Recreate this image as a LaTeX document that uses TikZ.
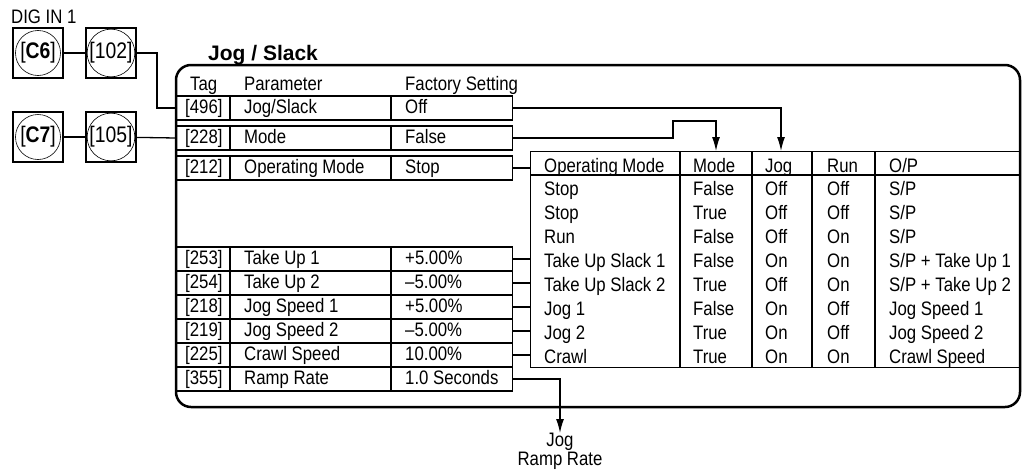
\documentclass[tikz,border=0pt]{standalone}
\usepackage{fontspec}
\setmainfont[FakeStretch=0.86]{Liberation Sans}
\newfontfamily\titlefont{Liberation Sans}
\usetikzlibrary{arrows.meta,positioning}

\tikzset{
  txt/.style={anchor=base west, inner sep=0pt, font=\fontsize{19.5}{19.5}\selectfont},
  rowbox/.style={draw, line width=1.3pt, minimum width=336pt, minimum height=24pt, inner sep=0pt, anchor=west},
  digbox/.style={draw, line width=1.4pt, minimum size=50pt, inner sep=0pt},
  digcirc/.style={draw, circle, line width=0.6pt, minimum size=45pt, inner sep=0pt, font=\fontsize{22.5}{22.5}\selectfont},
  wire/.style={line width=1.3pt},
  feed/.style={wire, -{Latex[length=14pt,width=8pt]}},
}

\begin{document}
\begin{tikzpicture}[x=1pt, y=-1pt]
    \useasboundingbox (0,0) rectangle (1024,471);

    % Digital inputs
    \node[txt] (digin) at (11,23) {DIG IN 1};
    \node[digbox] (c6box) at (38,53) {};
    \node[digcirc] (c6) at (c6box) {[\textbf{C6}]};
    \node[digbox] (p102box) at (111,53) {};
    \node[digcirc] (p102) at (p102box) {[102]};
    \node[digbox] (c7box) at (38,137) {};
    \node[digcirc] (c7) at (c7box) {[\textbf{C7}]};
    \node[digbox] (p105box) at (111,137) {};
    \node[digcirc] (p105) at (p105box) {[105]};
    \draw[wire] (c6box) -- (p102box);
    \draw[wire] (c7box) -- (p105box);

    % Block frame
    \draw[line width=2.5pt, rounded corners=15pt] (176,65) rectangle (1020,407);
    \node[anchor=base west, inner sep=0pt, font=\titlefont\bfseries\fontsize{21}{21}\selectfont] (title) at (208,60) {Jog / Slack};

    % Parameter list
    \node[txt] (htag) at (190,90) {Tag};
    \node[txt] (hpar) at (244,90) {Parameter};
    \node[txt] (hfac) at (405,90) {Factory Setting};
    \foreach \tg/\pn/\fs/\yc in {496/{Jog/Slack}/Off/108, 228/Mode/False/138, 212/Operating Mode/Stop/168,
        253/Take Up 1/+5.00\%/259, 254/Take Up 2/–5.00\%/283, 218/Jog Speed 1/+5.00\%/307,
        219/Jog Speed 2/–5.00\%/331, 225/Crawl Speed/10.00\%/355, 355/Ramp Rate/1.0 Seconds/379} {
        \node[rowbox] (r\tg) at (176,\yc) {};
        \draw[line width=1.3pt] (230,{\yc-12}) -- (230,{\yc+12});
        \draw[line width=1.3pt] (391,{\yc-12}) -- (391,{\yc+12});
        \node[txt] (t\tg) at (185,{\yc+5.5}) {[\tg]};
        \node[txt] (p\tg) at (244,{\yc+5.5}) {\pn};
        \node[txt] (f\tg) at (405,{\yc+5.5}) {\fs};
    }

    % Operating mode table
    \node[draw, line width=1.3pt, minimum width=490pt, minimum height=216pt, inner sep=0pt, anchor=north west] (optable) at (530,151) {};
    \draw[wire] (530,175) -- (1020,175);
    \foreach \x in {680,752,812,875}
        \draw[wire] (\x,151) -- (\x,367);
    \node[txt] (hom) at (544,172) {Operating Mode};
    \node[txt] (hmode) at (693,172) {Mode};
    \node[txt] (hjog) at (765,172) {Jog};
    \node[txt] (hrun) at (827,172) {Run};
    \node[txt] (hop) at (889,172) {O/P};
    \foreach \om/\md/\jg/\rn/\op [count=\i] in {Stop/False/Off/Off/{S/P}, Stop/True/Off/Off/{S/P}, Run/False/Off/On/{S/P},
        Take Up Slack 1/False/On/On/{S/P + Take Up 1}, Take Up Slack 2/True/Off/On/{S/P + Take Up 2},
        Jog 1/False/On/Off/Jog Speed 1, Jog 2/True/On/Off/Jog Speed 2, Crawl/True/On/On/Crawl Speed} {
        \node[txt] (om\i) at (544,{163+24*\i+8}) {\om};
        \node[txt] (md\i) at (693,{163+24*\i+8}) {\md};
        \node[txt] (jg\i) at (765,{163+24*\i+8}) {\jg};
        \node[txt] (rn\i) at (827,{163+24*\i+8}) {\rn};
        \node[txt] (op\i) at (889,{163+24*\i+8}) {\op};
    }

    % Inputs into the block
    \draw[wire] (p102box) -| (157,108) -- (r496.west);
    \draw[wire] (p105box) -- (r228.west);

    % Selection feeds
    \coordinate (modein) at (716,151);
    \coordinate (jogin) at (781,151);
    \draw[feed] (r496.east) -| (jogin);
    \draw[feed] (r228.east) -| (673,121) -| (modein);
    \foreach \tg in {212,253,254,218,219,225}
        \draw[wire] (r\tg.east) -- (r\tg.east -| optable.west);

    % Output
    \node[align=center, inner sep=0pt, anchor=north, font=\fontsize{19.5}{18.5}\selectfont] (jrr) at (560,433) {Jog\\Ramp Rate};
    \draw[feed] (r355.east) -| (jrr.north);
\end{tikzpicture}
\end{document}
